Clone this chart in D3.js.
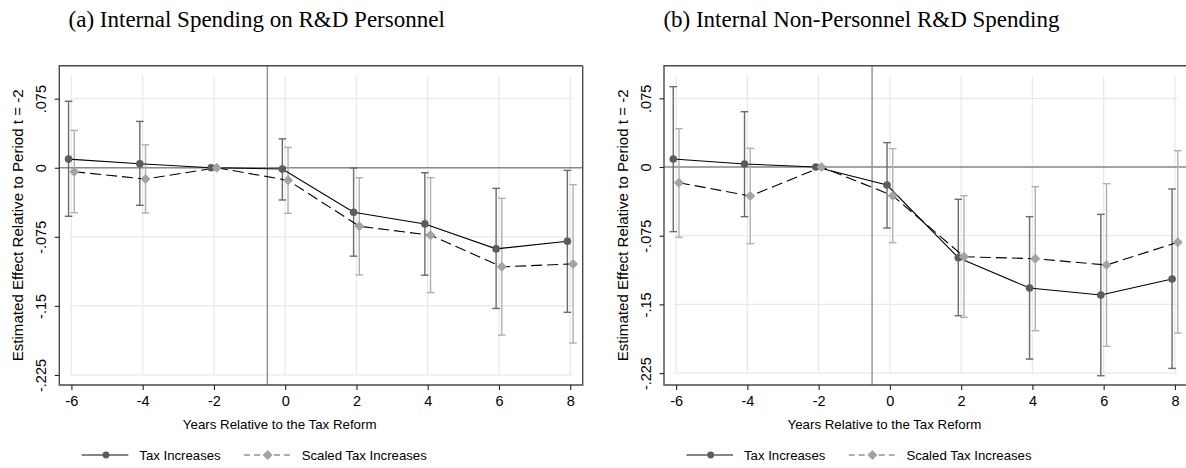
<!DOCTYPE html>
<html>
<head>
<meta charset="utf-8">
<script src="https://cdn.jsdelivr.net/npm/d3@7"></script>
<style>
  html, body { margin: 0; padding: 0; background: #fff; }
  svg { display: block; }
  text { font-family: "Liberation Sans", Arial, sans-serif; fill: #000; }
  .title { font-family: "Liberation Serif", "Times New Roman", serif; }
</style>
</head>
<body>
<svg id="chart" width="1186" height="468"></svg>
<script>
// Event-study estimates, years relative to the tax reform (reference period t = -2)
const years = [-6, -4, -2, 0, 2, 4, 6, 8];
const yTicks = [0.075, 0, -0.075, -0.15, -0.225];
const yTickLabels = [".075", "0", "-.075", "-.15", "-.225"];
const xTicks = [-6, -4, -2, 0, 2, 4, 6, 8];
const seriesNames = ["Tax Increases", "Scaled Tax Increases"];

// (a) Internal spending on R&D personnel
const personnelTax     = [0.0094, 0.0043, 0, -0.0014, -0.0484, -0.0610, -0.0881, -0.0798];
const personnelTaxLo   = [-0.0527, -0.0408, null, -0.0350, -0.0960, -0.1167, -0.1528, -0.1570];
const personnelTaxHi   = [0.0722, 0.0503, null, 0.0314, -0.0003, -0.0054, -0.0224, -0.0029];
const personnelScaled   = [-0.0043, -0.0123, 0, -0.0137, -0.0635, -0.0733, -0.1076, -0.1044];
const personnelScaledLo = [-0.0488, -0.0491, null, -0.0495, -0.1163, -0.1355, -0.1817, -0.1903];
const personnelScaledHi = [0.0405, 0.0249, null, 0.0221, -0.0108, -0.0108, -0.0332, -0.0184];

// (b) Internal non-personnel R&D spending
const nonPersTax     = [0.0087, 0.0033, 0, -0.0197, -0.0990, -0.1321, -0.1398, -0.1223];
const nonPersTaxLo   = [-0.0706, -0.0542, null, -0.0666, -0.1624, -0.2097, -0.2279, -0.2199];
const nonPersTaxHi   = [0.0877, 0.0604, null, 0.0266, -0.0353, -0.0542, -0.0517, -0.0240];
const nonPersScaled   = [-0.0171, -0.0317, 0, -0.0313, -0.0980, -0.1001, -0.1070, -0.0822];
const nonPersScaledLo = [-0.0768, -0.0837, null, -0.0826, -0.1642, -0.1787, -0.1958, -0.1813];
const nonPersScaledHi = [0.0419, 0.0204, null, 0.0200, -0.0313, -0.0215, -0.0182, 0.0178];

const panels = [
  { title: "(a) Internal Spending on R&D Personnel", left: 59.3, yDomain: [-0.2359, 0.1108],
    tax: personnelTax, taxLo: personnelTaxLo, taxHi: personnelTaxHi,
    scaled: personnelScaled, scaledLo: personnelScaledLo, scaledHi: personnelScaledHi },
  { title: "(b) Internal Non-Personnel R&D Spending", left: 664, yDomain: [-0.2380, 0.1106],
    tax: nonPersTax, taxLo: nonPersTaxLo, taxHi: nonPersTaxHi,
    scaled: nonPersScaled, scaledLo: nonPersScaledLo, scaledHi: nonPersScaledHi }
];

const svg = d3.select("#chart");
const plotW = 523.4, plotTop = 65.7, plotBottom = 385;
const offset = 0.08;             // horizontal nudge between the two series
const darkGrey = "#5c5c5c", lightGrey = "#a3a3a3";
// square diamond marker (equal width and height)
const diamondType = {
  draw(ctx, size) {
    const r = Math.sqrt(size / 2);
    ctx.moveTo(0, -r); ctx.lineTo(r, 0); ctx.lineTo(0, r); ctx.lineTo(-r, 0); ctx.closePath();
  }
};
const diamond = d3.symbol().type(diamondType).size(50);

function drawPanel(p) {
  const g = svg.append("g");
  const x = d3.scaleLinear().domain([-6.34, 8.35]).range([p.left, p.left + plotW]);
  const y = d3.scaleLinear().domain(p.yDomain).range([plotBottom, plotTop]);

  // grid
  g.selectAll(".vgrid").data(xTicks).join("line")
    .attr("x1", d => x(d)).attr("x2", d => x(d))
    .attr("y1", y(-0.225)).attr("y2", y(0.0995))
    .attr("stroke", "#e9e9e9").attr("stroke-width", 1.3);
  g.selectAll(".hgrid").data(yTicks).join("line")
    .attr("x1", x(-6.06)).attr("x2", x(8.07))
    .attr("y1", d => y(d)).attr("y2", d => y(d))
    .attr("stroke", "#e9e9e9").attr("stroke-width", 1.3);

  // reference lines: zero effect and reform date
  g.append("line").attr("x1", x.range()[0]).attr("x2", x.range()[1])
    .attr("y1", y(0)).attr("y2", y(0)).attr("stroke", "#8a8a8a").attr("stroke-width", 1.3);
  g.append("line").attr("x1", x(-0.5)).attr("x2", x(-0.5))
    .attr("y1", plotTop).attr("y2", plotBottom).attr("stroke", "#8a8a8a").attr("stroke-width", 1.3);

  // confidence intervals
  function ci(lo, hi, shift, colour) {
    const rows = years.map((t, i) => ({ t: t + shift, lo: lo[i], hi: hi[i] })).filter(d => d.lo !== null);
    const cg = g.append("g").attr("stroke", colour).attr("stroke-width", 1.4).attr("fill", "none");
    cg.selectAll(".bar").data(rows).join("line")
      .attr("x1", d => x(d.t)).attr("x2", d => x(d.t))
      .attr("y1", d => y(d.lo)).attr("y2", d => y(d.hi));
    cg.selectAll(".capLo").data(rows).join("line")
      .attr("x1", d => x(d.t) - 3.8).attr("x2", d => x(d.t) + 3.8)
      .attr("y1", d => y(d.lo)).attr("y2", d => y(d.lo));
    cg.selectAll(".capHi").data(rows).join("line")
      .attr("x1", d => x(d.t) - 3.8).attr("x2", d => x(d.t) + 3.8)
      .attr("y1", d => y(d.hi)).attr("y2", d => y(d.hi));
  }
  ci(p.taxLo, p.taxHi, -offset, "#6a6a6a");
  ci(p.scaledLo, p.scaledHi, offset, "#b0b0b0");

  // connecting lines
  const line = d3.line().x(d => x(d[0])).y(d => y(d[1]));
  g.append("path").datum(years.map((t, i) => [t + offset, p.scaled[i]]))
    .attr("d", line).attr("fill", "none").attr("stroke", "#000").attr("stroke-width", 1.1)
    .attr("stroke-dasharray", "11,5");
  g.append("path").datum(years.map((t, i) => [t - offset, p.tax[i]]))
    .attr("d", line).attr("fill", "none").attr("stroke", "#000").attr("stroke-width", 1.1);

  // markers
  g.selectAll(".dot").data(years.map((t, i) => [t - offset, p.tax[i]])).join("circle")
    .attr("cx", d => x(d[0])).attr("cy", d => y(d[1])).attr("r", 3.8).attr("fill", darkGrey);
  g.selectAll(".dia").data(years.map((t, i) => [t + offset, p.scaled[i]])).join("path")
    .attr("d", diamond).attr("transform", d => `translate(${x(d[0])},${y(d[1])})`).attr("fill", lightGrey);

  // frame (left, top, bottom)
  g.append("path")
    .attr("d", `M${x.range()[1]},${plotTop}H${x.range()[0]}V${plotBottom}H${x.range()[1]}V${plotTop}`)
    .attr("fill", "none").attr("stroke", "#4a4a4a").attr("stroke-width", 1.4);

  // axes
  const yAxis = g.append("g").attr("transform", `translate(${x.range()[0]},0)`)
    .call(d3.axisLeft(y).tickValues(yTicks).tickSize(4.5).tickFormat((d, i) => yTickLabels[i]));
  yAxis.select(".domain").remove();
  yAxis.selectAll(".tick line").attr("stroke", "#222").attr("stroke-width", 1.1);
  yAxis.selectAll(".tick text")
    .attr("font-size", 14.5).attr("text-anchor", "middle")
    .attr("transform", "rotate(-90)").attr("x", 0).attr("y", -18.5).attr("dy", "0.35em")
    .style("font-family", "'Liberation Sans', Arial, sans-serif");

  const xAxis = g.append("g").attr("transform", `translate(0,${plotBottom})`)
    .call(d3.axisBottom(x).tickValues(xTicks).tickSize(5).tickFormat(d3.format("d")));
  xAxis.select(".domain").remove();
  xAxis.selectAll(".tick line").attr("stroke", "#222").attr("stroke-width", 1.1);
  xAxis.selectAll(".tick text").attr("font-size", 14.5).attr("y", 10.5).attr("dy", "0.71em")
    .style("font-family", "'Liberation Sans', Arial, sans-serif")
    .text(d => d < 0 ? "-" + Math.abs(d) : String(d));

  // titles
  g.append("text").attr("x", p.left - 41.5).attr("y", (plotTop + plotBottom) / 2)
    .attr("transform", `rotate(-90,${p.left - 41.5},${(plotTop + plotBottom) / 2})`)
    .attr("text-anchor", "middle").attr("dy", "0.35em").attr("font-size", 15.1)
    .text("Estimated Effect Relative to Period t = -2");
  g.append("text").attr("x", p.left + 220.4).attr("y", 428.8)
    .attr("text-anchor", "middle").attr("font-size", 13.3)
    .text("Years Relative to the Tax Reform");
  g.append("text").attr("class", "title").attr("x", p.left + 197.4).attr("y", 27)
    .attr("text-anchor", "middle").attr("font-size", 23).text(p.title);

  // legend
  const ly = 455;
  const lg = g.append("g");
  lg.append("line").attr("x1", p.left + 22.4).attr("x2", p.left + 69)
    .attr("y1", ly).attr("y2", ly).attr("stroke", darkGrey).attr("stroke-width", 1.6);
  lg.append("circle").attr("cx", p.left + 46.7).attr("cy", ly).attr("r", 3.4).attr("fill", darkGrey);
  lg.append("text").attr("x", p.left + 80).attr("y", ly).attr("dy", "0.35em").attr("font-size", 13.2)
    .text(seriesNames[0]);
  lg.append("line").attr("x1", p.left + 184.7).attr("x2", p.left + 233.7)
    .attr("y1", ly).attr("y2", ly).attr("stroke", darkGrey).attr("stroke-width", 1.2)
    .attr("stroke-dasharray", "6,4");
  lg.append("path").attr("d", diamond).attr("transform", `translate(${p.left + 208.4},${ly})`)
    .attr("fill", lightGrey);
  lg.append("text").attr("x", p.left + 242.4).attr("y", ly).attr("dy", "0.35em").attr("font-size", 13.2)
    .text(seriesNames[1]);
}

panels.forEach(drawPanel);
</script>
</body>
</html>
